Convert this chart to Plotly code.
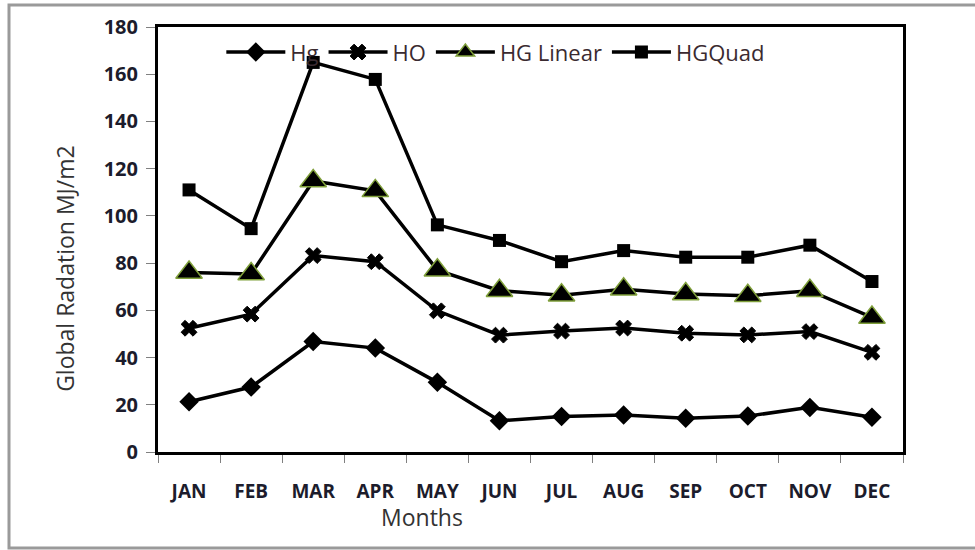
import plotly.graph_objects as go

months = ["JAN", "FEB", "MAR", "APR", "MAY", "JUN", "JUL", "AUG", "SEP", "OCT", "NOV", "DEC"]

hg = [21.3, 27.5, 46.8, 44.0, 29.5, 13.2, 15.0, 15.7, 14.3, 15.2, 18.9, 14.7]
ho = [52.4, 58.4, 83.2, 80.6, 59.8, 49.5, 51.2, 52.5, 50.3, 49.6, 51.0, 42.2]
hg_linear = [76.0, 75.4, 114.8, 110.6, 77.0, 68.3, 66.4, 68.9, 66.9, 66.2, 68.3, 57.0]
hg_quad = [111.0, 94.6, 165.0, 157.8, 96.2, 89.6, 80.6, 85.3, 82.5, 82.5, 87.6, 72.2]

y_ticks = [0, 20, 40, 60, 80, 100, 120, 140, 160, 180]

FONT = "Open Sans"
LINE_W = 3.5

series = [
    ("Hg", hg, dict(symbol="diamond", size=15, color="black")),
    ("HO", ho, dict(symbol="x", size=14, color="black", line=dict(color="black", width=1))),
    ("HG Linear", hg_linear, dict(symbol="triangle-up", size=23, color="black",
                                  line=dict(color="#7f9f3a", width=1.5))),
    ("HGQuad", hg_quad, dict(symbol="square", size=13, color="black")),
]

fig = go.Figure()
for name, vals, marker in series:
    fig.add_trace(go.Scatter(
        x=months, y=vals, name=name, mode="lines+markers",
        line=dict(color="black", width=LINE_W),
        marker=marker,
    ))

fig.update_layout(
    width=975, height=550,
    margin=dict(l=158, r=72, t=27, b=98),
    paper_bgcolor="white", plot_bgcolor="white",
    font=dict(family=FONT, color="#222"),
    showlegend=True,
    legend=dict(
        orientation="h", x=0.085, y=0.99, xanchor="left", yanchor="top",
        bgcolor="rgba(0,0,0,0)", font=dict(size=22, color="#3a2a30", family=FONT),
        itemwidth=59, tracegroupgap=0,
    ),
    xaxis=dict(
        type="category", categoryorder="array", categoryarray=months,
        tickson="boundaries", ticks="outside", ticklen=8, tickcolor="#808080", tickwidth=1,
        showline=True, linecolor="black", linewidth=2.5, mirror=True,
        showgrid=False, zeroline=False, ticklabelstandoff=20,
        tickfont=dict(size=19, family=FONT, color="#1c1c2c", weight="bold"),
        range=[-0.5, 11.5],
    ),
    yaxis=dict(
        range=[0, 180], tickmode="array", tickvals=y_ticks,
        ticks="outside", ticklen=9, tickcolor="#808080", tickwidth=1,
        showline=True, linecolor="black", linewidth=3, mirror=True,
        showgrid=False, zeroline=False, ticklabelstandoff=4,
        tickfont=dict(size=20, family=FONT, color="#1c1c2c", weight="bold"),
    ),
    annotations=[
        dict(text="Global Radation MJ/m2", textangle=-90, xref="paper", yref="paper",
             x=-0.125, y=0.433, xanchor="center", yanchor="middle", showarrow=False,
             font=dict(size=23, family=FONT, color="#333")),
        dict(text="Months", xref="paper", yref="paper",
             x=0.354, y=-0.153, xanchor="center", yanchor="middle", showarrow=False,
             font=dict(size=23, family=FONT, color="#333")),
    ],
    shapes=[
        dict(type="rect", xref="paper", yref="paper", x0=-0.2, x1=1.2, y0=-0.2259, y1=1.0518,
             line=dict(color="#9a9a9a", width=3), fillcolor="rgba(0,0,0,0)", layer="below"),
    ],
)

fig.write_html("out.html")
